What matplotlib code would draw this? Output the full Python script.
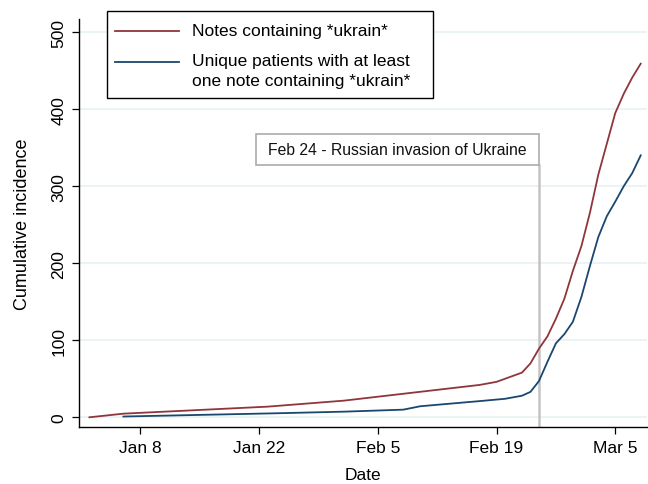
import pandas as pd
import matplotlib.pyplot as plt
from matplotlib.lines import Line2D
from matplotlib.patches import Rectangle

plt.rcParams['font.family'] = ['Liberation Sans', 'DejaVu Sans']

# Data
notes_dates = ["2022-01-02", "2022-01-06", "2022-01-23", "2022-02-01", "2022-02-17",
               "2022-02-19", "2022-02-20", "2022-02-21", "2022-02-22", "2022-02-23",
               "2022-02-24", "2022-02-25", "2022-02-26", "2022-02-27", "2022-02-28",
               "2022-03-01", "2022-03-02", "2022-03-03", "2022-03-04", "2022-03-05",
               "2022-03-06", "2022-03-07", "2022-03-08"]
notes_values = [0, 4.7, 13.8, 21.6, 42, 46, 50, 54, 58, 70,
                89, 105, 128, 154, 190, 222, 265, 315, 355, 395,
                420, 441, 459]

patient_dates = ["2022-01-06", "2022-01-24", "2022-02-01", "2022-02-08", "2022-02-10",
                 "2022-02-17", "2022-02-19", "2022-02-20", "2022-02-21", "2022-02-22",
                 "2022-02-23", "2022-02-24", "2022-02-25", "2022-02-26", "2022-02-27",
                 "2022-02-28", "2022-03-01", "2022-03-02", "2022-03-03", "2022-03-04",
                 "2022-03-05", "2022-03-06", "2022-03-07", "2022-03-08"]
patient_values = [1, 5.2, 7.3, 9.9, 14.3, 21, 23, 24, 26, 28,
                  33, 47, 72, 96, 108, 124, 156, 196, 234, 261,
                  280, 300, 317, 340]

tick_dates = ["2022-01-08", "2022-01-22", "2022-02-05", "2022-02-19", "2022-03-05"]
tick_labels = ["Jan 8", "Jan 22", "Feb 5", "Feb 19", "Mar 5"]
y_ticks = [0, 100, 200, 300, 400, 500]

legend_labels = ["Notes containing *ukrain*",
                 ["Unique patients with at least", "one note containing *ukrain*"]]

event_date = "2022-02-24"
event_text = "Feb 24 - Russian invasion of Ukraine"

W, H = 648, 485
fig = plt.figure(figsize=(W / 100, H / 100), dpi=100)
ax = fig.add_axes([79 / W, 1 - 428.3 / H, (647 - 79) / W, (428.3 - 20) / H])


def fx(px):
    return px / W


def fy(py):
    return 1 - py / H


red = "#90353B"
navy = "#1A476F"

# gridlines
for v in y_ticks:
    ax.axhline(v, color="#E8F1F2", lw=1.2, zorder=0)

# event line and label box
ev = pd.Timestamp(event_date)
ax.plot([ev, ev], [-13, 327.6], color="#C4C4C4", lw=1.8, zorder=1)
box_w = pd.Timedelta(days=283 / 8.482)
ax.add_patch(Rectangle((ev - box_w, 327.6), box_w, 368 - 327.6,
                       fc="white", ec="#ABABAB", lw=1.2, zorder=4))
ax.text(ev - box_w / 2, 347.8, event_text, ha="center", va="center",
        fontsize=11.3, color="#111111", zorder=5)

ax.plot(pd.to_datetime(notes_dates), notes_values, color=red, lw=1.3, zorder=3)
ax.plot(pd.to_datetime(patient_dates), patient_values, color=navy, lw=1.3, zorder=3)

start = pd.Timestamp("2022-01-01")
ax.set_xlim(start - pd.Timedelta(days=0.23), start + pd.Timedelta(days=66.74))
ax.set_ylim(-13, 517)

ax.set_xticks(pd.to_datetime(tick_dates))
ax.set_xticklabels(tick_labels)
ax.set_yticks(y_ticks)
ax.set_yticklabels([str(v) for v in y_ticks], rotation=90, va="center")
ax.tick_params(axis="both", labelsize=12.5, length=5, width=0.9, direction="out", pad=4)

for side in ["top", "right"]:
    ax.spines[side].set_visible(False)
for side in ["left", "bottom"]:
    ax.spines[side].set_linewidth(1.0)

ax.set_xlabel("Date", fontsize=12.5, labelpad=9)
ax.set_ylabel("Cumulative incidence", fontsize=13, labelpad=15)

# legend box drawn in figure pixels
fig.add_artist(Rectangle((fx(107.3), fy(99.3)), fx(433 - 107.3), (99.3 - 11.7) / H,
                         fc="white", ec="black", lw=1.0, zorder=6))
fig.add_artist(Line2D([fx(115), fx(179)], [fy(31.7), fy(31.7)], color=red, lw=1.3, zorder=7))
fig.add_artist(Line2D([fx(115), fx(179)], [fy(62.5), fy(62.5)], color=navy, lw=1.3, zorder=7))
fig.text(fx(191.7), fy(31.7), legend_labels[0], fontsize=12.5, va="center", zorder=7)
fig.text(fx(191.7), fy(61.5), legend_labels[1][0], fontsize=12.5, va="center", zorder=7)
fig.text(fx(191.7), fy(81.7), legend_labels[1][1], fontsize=12.5, va="center", zorder=7)

fig.savefig("out.png", dpi=100)
